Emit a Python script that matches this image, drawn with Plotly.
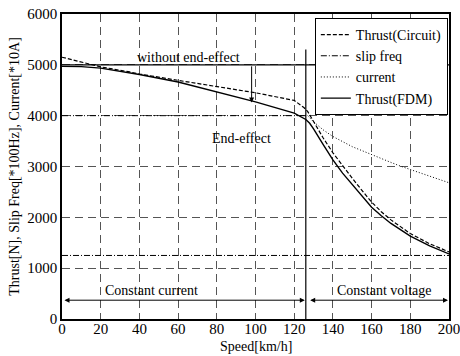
import plotly.graph_objects as go

# ---- data ----
speed_circuit = [0, 20, 35, 40, 60, 80, 100, 120, 122, 125, 127, 130, 135, 140, 145, 150, 155, 160, 165, 170, 180, 190, 200]
thrust_circuit = [5150, 4960, 4860, 4820, 4695, 4570, 4450, 4300, 4250, 4160, 4080, 3880, 3560, 3270, 3010, 2770, 2530, 2300, 2110, 1950, 1680, 1480, 1320]

speed_fdm = [0, 10, 20, 40, 60, 80, 100, 120, 124, 126, 128, 130, 135, 140, 145, 150, 155, 160, 165, 170, 180, 190, 200]
thrust_fdm = [4970, 4965, 4935, 4810, 4662, 4470, 4270, 4050, 3970, 3925, 3850, 3740, 3430, 3130, 2870, 2640, 2410, 2200, 2030, 1880, 1630, 1440, 1280]

speed_slip = [0, 200]
slip_freq = [1250, 1250]

speed_current = [0, 127, 130, 135, 140, 150, 160, 170, 175, 180, 190, 200]
current = [4000, 4000, 3880, 3720, 3590, 3390, 3230, 3080, 3006, 2940, 2810, 2680]

no_end_effect_speed = [0, 200]
no_end_effect_thrust = [5000, 5000]

boundary_speed = 126
boundary_top = 5300
arrow_speed = 98
arrow_from, arrow_to = 5000, 4260
region_arrow_level = 370

x_ticks = [0, 20, 40, 60, 80, 100, 120, 140, 160, 180, 200]
y_ticks = [0, 1000, 2000, 3000, 4000, 5000, 6000]

FONT = "Liberation Serif, Times New Roman, serif"

fig = go.Figure()

fig.add_trace(go.Scatter(x=no_end_effect_speed, y=no_end_effect_thrust, mode="lines",
                         line=dict(color="black", width=1.2), showlegend=False, hoverinfo="skip"))
fig.add_trace(go.Scatter(x=[boundary_speed, boundary_speed], y=[0, boundary_top], mode="lines",
                         line=dict(color="black", width=1.2), showlegend=False, hoverinfo="skip"))

fig.add_trace(go.Scatter(x=speed_circuit, y=thrust_circuit, mode="lines", name="Thrust(Circuit)",
                         line=dict(color="black", width=1.2, dash="4px,2px")))
fig.add_trace(go.Scatter(x=speed_slip, y=slip_freq, mode="lines", name="slip freq",
                         line=dict(color="black", width=1.0, dash="6px,2px,1px,2px")))
# constant-current part of the current curve
fig.add_trace(go.Scatter(x=speed_current[:2], y=current[:2], mode="lines", showlegend=False,
                         line=dict(color="black", width=1.0, dash="6px,2px,1px,2px,1px,2px"), hoverinfo="skip"))
fig.add_trace(go.Scatter(x=speed_current[1:], y=current[1:], mode="lines", name="current",
                         line=dict(color="black", width=1.0, dash="1px,2px")))
fig.add_trace(go.Scatter(x=speed_fdm, y=thrust_fdm, mode="lines", name="Thrust(FDM)",
                         line=dict(color="black", width=1.4)))

grid = dict(showgrid=True, gridcolor="#555555", griddash="8px,5px", gridwidth=1.2)

fig.update_xaxes(range=[0, 200], tickvals=x_ticks, ticktext=[str(v) for v in x_ticks],
                 showline=True, linecolor="black", linewidth=1.5, mirror=True,
                 ticks="", zeroline=False, automargin=False, ticklabeloverflow="allow",
                 ticklabelstandoff=-5,
                 tickfont=dict(family=FONT, size=15, color="black"),
                 **grid)
fig.update_yaxes(range=[0, 6000], tickvals=y_ticks, ticktext=[str(v) for v in y_ticks],
                 showline=True, linecolor="black", linewidth=1.5, mirror=True,
                 ticks="", zeroline=False, automargin=False, ticklabeloverflow="allow",
                 tickfont=dict(family=FONT, size=15, color="black"),
                 title=dict(text="Thrust[N], Slip Freq[*100Hz], Current[*10A]",
                            font=dict(family=FONT, size=14, color="black"), standoff=4),
                 **grid)

ann_font = dict(family=FONT, size=14, color="black")
annotations = [
    dict(x=0.5, y=-0.09, xref="paper", yref="paper", text="Speed[km/h]", showarrow=False,
         xanchor="center", yanchor="middle", font=ann_font),
    dict(x=65.6, y=5000, text="without end-effect", showarrow=False, yanchor="bottom", yshift=-2, font=ann_font),
    dict(x=93, y=3550, text="End-effect", showarrow=False, font=ann_font),
    dict(x=46.5, y=region_arrow_level, text="Constant current", showarrow=False, yanchor="bottom", yshift=0, font=ann_font),
    dict(x=166.7, y=region_arrow_level, text="Constant voltage", showarrow=False, yanchor="bottom", yshift=0, font=ann_font),
    dict(x=arrow_speed, y=arrow_to, ax=arrow_speed, ay=arrow_from, axref="x", ayref="y",
         xref="x", yref="y", text="", showarrow=True, arrowhead=2, arrowsize=1, arrowwidth=1, arrowcolor="black"),
    dict(x=boundary_speed - 0.5, y=region_arrow_level, ax=0.5, ay=region_arrow_level, axref="x", ayref="y",
         xref="x", yref="y", text="", showarrow=True, arrowhead=2, startarrowhead=2, arrowside="end+start",
         arrowsize=1, arrowwidth=1, arrowcolor="black"),
    dict(x=199.5, y=region_arrow_level, ax=boundary_speed + 1.5, ay=region_arrow_level, axref="x", ayref="y",
         xref="x", yref="y", text="", showarrow=True, arrowhead=2, startarrowhead=2, arrowside="end+start",
         arrowsize=1, arrowwidth=1, arrowcolor="black"),
]

fig.update_layout(
    width=460, height=356,
    margin=dict(l=62, r=11, t=14, b=37, autoexpand=False),
    paper_bgcolor="white", plot_bgcolor="white",
    font=dict(family=FONT, size=14, color="black"),
    annotations=annotations,
    legend=dict(x=0.997, y=0.987, xanchor="right", yanchor="top",
                bgcolor="white", bordercolor="black", borderwidth=1,
                font=dict(family=FONT, size=14, color="black"),
                itemwidth=30, tracegroupgap=0),
    showlegend=True,
)

fig.write_html("out.html")
